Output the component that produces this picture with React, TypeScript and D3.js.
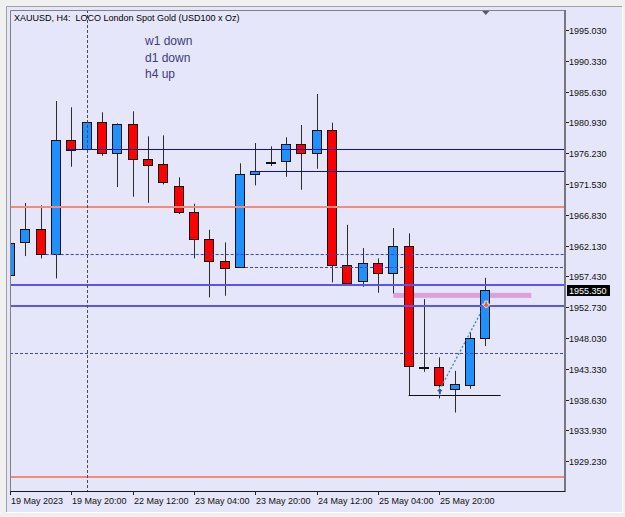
import React, { useEffect, useRef } from 'react';
import * as d3 from 'd3';

// H4 bars, 19 May 04:00 .. 26 May 08:00
const opens = [1957.58, 1962.62, 1964.65, 1960.83, 1978.28, 1976.82, 1980.94, 1976.21, 1980.68, 1975.38, 1974.53, 1971.26, 1967.29, 1963.17, 1959.81, 1958.80, 1973.00, 1974.88, 1974.92, 1977.58, 1976.21, 1979.76, 1959.11, 1956.66, 1959.41, 1957.88, 1962.05, 1943.63, 1943.53, 1940.18, 1940.83, 1947.96];
const highs = [1963.20, 1968.62, 1968.27, 1984.19, 1983.23, 1981.06, 1982.47, 1980.79, 1982.62, 1978.80, 1978.95, 1972.54, 1968.51, 1964.54, 1962.62, 1974.68, 1977.78, 1977.27, 1978.65, 1980.53, 1985.26, 1980.88, 1965.30, 1961.75, 1960.18, 1964.80, 1963.99, 1953.96, 1945.06, 1943.01, 1948.92, 1957.21];
const lows = [1956.90, 1960.53, 1960.18, 1957.12, 1974.16, 1976.74, 1975.84, 1971.06, 1969.58, 1968.66, 1971.47, 1966.94, 1960.18, 1954.22, 1954.47, 1958.80, 1971.32, 1974.27, 1972.63, 1970.65, 1973.85, 1956.51, 1956.21, 1955.84, 1954.92, 1954.83, 1939.30, 1942.86, 1938.80, 1936.66, 1940.27, 1946.79];
const closes = [1962.47, 1964.65, 1960.83, 1978.28, 1976.82, 1980.94, 1976.21, 1980.68, 1975.34, 1974.47, 1971.82, 1967.24, 1963.17, 1959.81, 1958.80, 1973.00, 1973.46, 1974.90, 1977.58, 1976.21, 1979.76, 1959.11, 1956.36, 1959.41, 1957.88, 1962.05, 1943.73, 1943.60, 1940.72, 1940.94, 1947.96, 1955.35];

const priceTicks = [1995.03, 1990.33, 1985.63, 1980.93, 1976.23, 1971.53, 1966.83, 1962.13, 1957.43, 1952.73, 1948.03, 1943.33, 1938.63, 1933.93, 1929.23];
const timeTickBars = [0, 4, 8, 12, 16, 20, 24, 28];
const timeTickLabels = ['19 May 2023', '19 May 20:00', '22 May 12:00', '23 May 04:00', '23 May 20:00', '24 May 12:00', '25 May 04:00', '25 May 20:00'];

const lastPrice = 1955.35;
const trendLines = ['w1 down', 'd1 down', 'h4 up'];

// horizontal objects
const salmonLevels = [1968.05, 1926.83];
const zoneLevels = [1956.14, 1952.89];
const solidLevels = [{ price: 1976.82, fromBar: 4 }, { price: 1973.50, fromBar: 16 }];
const dashedLevels = [{ price: 1960.83, fromBar: 2 }, { price: 1958.80, fromBar: 15 }, { price: 1945.76, fromBar: null }];
const bandLevel = { price: 1954.53, fromBar: 25, toBar: 34 };
const lowLevel = { price: 1939.30, fromBar: 26, toBar: 32 };
const separatorBar = 5;
const tradeEntry = { bar: 28, price: 1940.3 };
const tradeExit = { bar: 31, price: 1953.2 };
const shiftBar = 31;

const FONT = 'Liberation Sans, Arial, sans-serif';

const App = () => {
  const svgRef = useRef<SVGSVGElement>(null);

  useEffect(() => {
    const svg = d3.select(svgRef.current);
    svg.selectAll('*').remove();

    const W = 625;
    const H = 517;
    const plot = { left: 10, top: 10, right: 565, bottom: 491 };

    const x = d3.scaleLinear().domain([0, 36.2]).range([plot.left, plot.right]);
    const y = d3.scaleLinear().domain([1924.68, 1998.08]).range([plot.bottom, plot.top]);
    const px = (v: number) => Math.round(v) + 0.5;

    // window frame
    svg.append('rect').attr('width', W).attr('height', H).attr('fill', '#f0f0f0');
    svg.append('rect').attr('x', 7).attr('y', 7).attr('width', 615).attr('height', 505).attr('fill', '#e6e6fa');
    svg.append('path').attr('d', 'M6.5,512V6.5H622').attr('fill', 'none').attr('stroke', '#a0a0a0');
    svg.append('path').attr('d', 'M622.5,6.5V512.5H6.5').attr('fill', 'none').attr('stroke', '#ffffff');

    svg.append('defs').append('clipPath').attr('id', 'plotClip')
      .append('rect')
      .attr('x', plot.left)
      .attr('y', plot.top)
      .attr('width', plot.right - plot.left)
      .attr('height', plot.bottom - plot.top);

    const g = svg.append('g').attr('clip-path', 'url(#plotClip)');

    // rectangle object sits behind the bars
    g.append('rect')
      .attr('x', x(bandLevel.fromBar))
      .attr('y', y(bandLevel.price) - 2.5)
      .attr('width', x(bandLevel.toBar) - x(bandLevel.fromBar))
      .attr('height', 5)
      .attr('fill', '#dda0dd');

    const bars = d3.range(opens.length);

    g.selectAll('.wick')
      .data(bars)
      .enter()
      .append('line')
      .attr('class', 'wick')
      .attr('x1', i => px(x(i)))
      .attr('x2', i => px(x(i)))
      .attr('y1', i => y(highs[i]))
      .attr('y2', i => y(lows[i]))
      .attr('stroke', '#2b2b2b')
      .attr('stroke-width', 1);

    g.selectAll('.body')
      .data(bars)
      .enter()
      .append('rect')
      .attr('class', 'body')
      .attr('x', i => Math.round(x(i) - 5) + 0.5)
      .attr('y', i => Math.round(y(Math.max(opens[i], closes[i]))) + 0.5)
      .attr('width', 9)
      .attr('height', i => Math.max(1, Math.round(Math.abs(y(opens[i]) - y(closes[i])))))
      .attr('fill', i => (closes[i] >= opens[i] ? '#1e90ff' : '#ff0000'))
      .attr('stroke', '#111')
      .attr('stroke-width', 1);

    // horizontal lines
    const hline = (price: number, x1: number, x2: number, color: string, width: number, dash?: string) => {
      const yy = width % 2 === 0 ? Math.round(y(price)) : px(y(price));
      const l = g.append('line')
        .attr('x1', x1).attr('x2', x2)
        .attr('y1', yy).attr('y2', yy)
        .attr('stroke', color)
        .attr('stroke-width', width);
      if (dash) l.attr('stroke-dasharray', dash);
    };

    salmonLevels.forEach(p => hline(p, plot.left, plot.right, '#f58a78', 2));
    zoneLevels.forEach(p => hline(p, plot.left, plot.right, '#5656f2', 2));
    solidLevels.forEach(d => hline(d.price, x(d.fromBar) - 5, plot.right, '#0a0ac8', 1));
    dashedLevels.forEach(d => hline(d.price, d.fromBar === null ? plot.left : x(d.fromBar) + 5, plot.right, '#3c3cf0', 1, '3,2'));
    hline(lowLevel.price, x(lowLevel.fromBar), x(lowLevel.toBar), '#111', 1);

    // period separator
    g.append('line')
      .attr('x1', px(x(separatorBar))).attr('x2', px(x(separatorBar)))
      .attr('y1', plot.top).attr('y2', plot.bottom)
      .attr('stroke', '#4a4a4a')
      .attr('stroke-dasharray', '3,2');

    // trade markers
    const ex = x(tradeEntry.bar);
    const ey = y(tradeEntry.price);
    const xx = x(tradeExit.bar);
    const xy = y(tradeExit.price);
    g.append('line')
      .attr('x1', ex + 2).attr('y1', ey - 2)
      .attr('x2', xx).attr('y2', xy)
      .attr('stroke', '#3f7fd0')
      .attr('stroke-width', 1.3)
      .attr('stroke-dasharray', '2,2');

    g.append('path')
      .attr('d', `M${ex + 0.5},${ey - 1} l4,4 h-2.5 v3 h-3 v-3 h-2.5 z`)
      .attr('fill', '#1f5fb8')
      .attr('stroke', '#ffffff')
      .attr('stroke-width', 0.8);

    g.append('path')
      .attr('d', `M${xx + 1},${xy + 4} l-4,-4 h2.5 v-3 h3 v3 h2.5 z`)
      .attr('fill', '#ee5a2a')
      .attr('stroke', '#ffffff')
      .attr('stroke-width', 0.8);

    // shift marker
    const sx = x(shiftBar) + 0.5;
    svg.append('path')
      .attr('d', `M${sx - 4.5},${plot.top} L${sx + 4.5},${plot.top} L${sx},${plot.top + 5} Z`)
      .attr('fill', '#5a5a66');

    // frame
    svg.append('path').attr('d', `M${plot.left + 0.5},${plot.bottom}V${plot.top + 0.5}H${plot.right}`)
      .attr('fill', 'none').attr('stroke', '#808088');
    svg.append('line')
      .attr('x1', plot.right).attr('x2', plot.right)
      .attr('y1', plot.top).attr('y2', plot.bottom + 1)
      .attr('stroke', '#77777f').attr('stroke-width', 2);
    svg.append('line')
      .attr('x1', plot.left).attr('x2', plot.right)
      .attr('y1', plot.bottom + 0.5).attr('y2', plot.bottom + 0.5)
      .attr('stroke', '#1a1a22');

    // price axis
    const yAxis = svg.append('g');
    priceTicks.forEach(p => {
      const yy = px(y(p));
      yAxis.append('line')
        .attr('x1', plot.right + 1).attr('x2', plot.right + 4)
        .attr('y1', yy).attr('y2', yy)
        .attr('stroke', '#222');
      yAxis.append('text')
        .attr('x', plot.right + 4)
        .attr('y', yy)
        .attr('dy', '0.35em')
        .style('font-family', FONT)
        .style('font-size', '9px')
        .style('fill', '#111')
        .text(d3.format('.3f')(p));
    });

    const ly = Math.round(y(lastPrice));
    svg.append('rect')
      .attr('x', plot.right + 2)
      .attr('y', ly - 5)
      .attr('width', 43)
      .attr('height', 11)
      .attr('fill', '#000');
    svg.append('text')
      .attr('x', plot.right + 4)
      .attr('y', ly + 0.5)
      .attr('dy', '0.35em')
      .style('font-family', FONT)
      .style('font-size', '9px')
      .style('fill', '#fff')
      .text(d3.format('.3f')(lastPrice));

    // time axis
    timeTickBars.forEach((b, i) => {
      const tx = px(x(b));
      svg.append('line')
        .attr('x1', tx).attr('x2', tx)
        .attr('y1', plot.bottom).attr('y2', plot.bottom + 4)
        .attr('stroke', '#222');
      svg.append('text')
        .attr('x', tx + 0.5)
        .attr('y', plot.bottom + 13)
        .style('font-family', FONT)
        .style('font-size', '9px')
        .style('fill', '#111')
        .text(timeTickLabels[i]);
    });

    // title
    svg.append('text')
      .attr('x', 14)
      .attr('y', 20.5)
      .style('font-family', FONT)
      .style('font-size', '9px')
      .style('fill', '#000')
      .style('white-space', 'pre')
      .text('XAUUSD, H4:  LOCO London Spot Gold (USD100 x Oz)');

    // trend labels
    trendLines.forEach((t, i) => {
      svg.append('text')
        .attr('x', 145)
        .attr('y', 45 + i * 16.7)
        .style('font-family', FONT)
        .style('font-size', '12px')
        .style('fill', '#3d3a82')
        .text(t);
    });
  }, []);

  return (
    <svg ref={svgRef} width={625} height={517} style={{ position: 'absolute', left: 0, top: 0, display: 'block' }}></svg>
  );
};

export default App;
